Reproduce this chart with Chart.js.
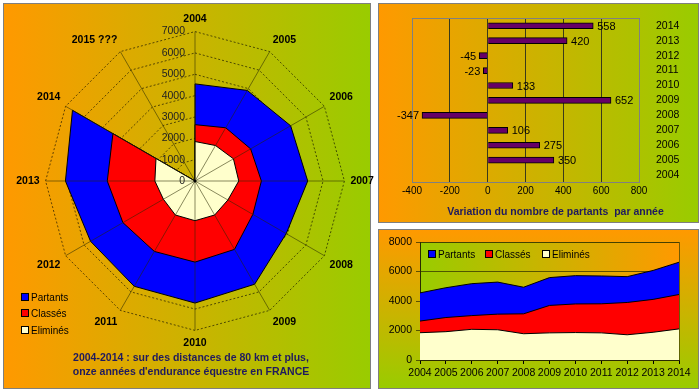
<!DOCTYPE html>
<html>
<head>
<meta charset="utf-8">
<script src="https://cdn.jsdelivr.net/npm/chart.js@4.4.1/dist/chart.umd.min.js"></script>
<style>
  body { margin: 0; width: 700px; height: 392px; background: #fff; position: relative; overflow: hidden;
         font-family: "Liberation Sans", Arial, sans-serif; }
  .panel { position: absolute; box-sizing: border-box; border: 1px solid #7f7f7f; }
  #p-radar { left: 3px; top: 3px; width: 368px; height: 386px; background: linear-gradient(to right, #ff9900, #99cc00); }
  #p-bar { left: 378px; top: 3px; width: 321px; height: 220px; background: linear-gradient(to right, #ff9900, #99cc00); }
  #p-area { left: 378px; top: 229px; width: 321px; height: 160px; background: linear-gradient(to bottom, #ff9900, #99cc00); }
  canvas { position: absolute; }
  .leg { position: absolute; font-size: 10px; color: #000; white-space: nowrap; line-height: 12px; }
  .leg i { display: inline-block; width: 6px; height: 6px; border: 1px solid #000; margin-right: 2px; vertical-align: 0px; }
  .title { position: absolute; left: 3px; width: 376px; text-align: center; font-weight: bold; font-size: 10.5px;
           color: #1f1a5e; line-height: 14px; }
</style>
</head>
<body>
<div class="panel" id="p-radar"></div>
<div class="panel" id="p-bar"></div>
<div class="panel" id="p-area"></div>

<canvas id="radar" width="376" height="392" style="left:0;top:0"></canvas>
<canvas id="bars" width="321" height="219" style="left:378px;top:3px"></canvas>
<canvas id="area" width="321" height="159" style="left:378px;top:229px"></canvas>

<div class="leg" style="left:21px;top:292px"><i style="background:#0000ff"></i>Partants</div>
<div class="leg" style="left:21px;top:308px"><i style="background:#ff0000"></i>Classés</div>
<div class="leg" style="left:21px;top:325px"><i style="background:#ffffcc"></i>Eliminés</div>

<div class="title" style="top:350px">2004-2014 : sur des distances de 80 km et plus,<br>onze années d'endurance équestre en FRANCE</div>

<div class="leg" style="left:428px;top:249px"><i style="background:#0000ff"></i>Partants</div>
<div class="leg" style="left:485px;top:249px"><i style="background:#ff0000"></i>Classés</div>
<div class="leg" style="left:542px;top:249px"><i style="background:#ffffcc"></i>Eliminés</div>

<script>
// --- Data ---
const years = ['2004', '2005', '2006', '2007', '2008', '2009', '2010', '2011', '2012', '2013', '2014'];
const radarExtraLabel = '2015 ???';
const radarExtraValue = 0;
const partants = [4550, 4900, 5175, 5281, 4934, 5586, 5719, 5696, 5651, 6071, 6629];
const classes = [2640, 2880, 3010, 3110, 3130, 3700, 3800, 3810, 3900, 4110, 4440];
const elimines = [1850, 1920, 2080, 2050, 1780, 1840, 1860, 1840, 1710, 1880, 2110];
const variation = [null, 350, 275, 106, -347, 652, 133, -23, -45, 420, 558];
const radarTicks = [0, 1000, 2000, 3000, 4000, 5000, 6000, 7000];
const barTicks = [-400, -200, 0, 200, 400, 600, 800];
const areaTicks = [0, 2000, 4000, 6000, 8000];

const FONT = '"Liberation Sans", Arial, sans-serif';
const BLUE = '#0000ff', RED = '#ff0000', CREAM = '#ffffcc', PURPLE = '#660066';

Chart.defaults.font.family = FONT;
Chart.defaults.color = '#000';
Chart.defaults.animation = false;

// --- Radar ---
// spokes and tick labels are drawn over the filled areas, like the original
const radarOverlay = {
    id: 'radarOverlay',
    afterDatasetsDraw(chart) {
        const s = chart.scales.r;
        const ctx = chart.ctx;
        ctx.save();
        ctx.strokeStyle = 'rgba(40,40,0,0.55)';
        ctx.lineWidth = 1;
        const n = chart.data.labels.length;
        for (let i = 0; i < n; i++) {
            const p = s.getPointPosition(i, s.drawingArea);
            ctx.beginPath();
            ctx.moveTo(s.xCenter, s.yCenter);
            ctx.lineTo(p.x, p.y);
            ctx.stroke();
        }
        ctx.fillStyle = '#000';
        ctx.beginPath();
        ctx.arc(s.xCenter, s.yCenter, 1.5, 0, Math.PI * 2);
        ctx.fill();
        ctx.font = '10.5px ' + FONT;
        ctx.textAlign = 'right';
        ctx.textBaseline = 'middle';
        ctx.fillStyle = '#222';
        radarTicks.forEach(v => {
            ctx.fillText(String(v), s.xCenter - 10, s.yCenter - s.getDistanceFromCenterForValue(v));
        });
        ctx.restore();
    }
};

new Chart(document.getElementById('radar'), {
    type: 'radar',
    data: {
        labels: [...years, radarExtraLabel],
        datasets: [
            { label: 'Partants', data: [...partants, radarExtraValue], backgroundColor: BLUE, order: 3 },
            { label: 'Classés', data: [...classes, radarExtraValue], backgroundColor: RED, order: 2 },
            { label: 'Eliminés', data: [...elimines, radarExtraValue], backgroundColor: CREAM, order: 1 }
        ].map(d => Object.assign(d, { fill: 'origin', borderColor: '#000', borderWidth: 1, pointRadius: 0, tension: 0 }))
    },
    options: {
        responsive: false,
        layout: { padding: { left: 16, right: 2, top: 14, bottom: 42 } },
        plugins: { legend: { display: false }, tooltip: { enabled: false } },
        scales: {
            r: {
                min: 0, max: 7000,
                ticks: { stepSize: 1000, display: false },
                grid: { color: 'rgba(0,0,0,0.6)', lineWidth: 1 },
                border: { dash: [2, 2] },
                angleLines: { display: false },
                pointLabels: { font: { size: 10.5, weight: 'bold' }, color: '#000', padding: 6 }
            }
        }
    },
    plugins: [radarOverlay]
});

// --- Variation bars ---
const plotFrame = {
    id: 'plotFrame',
    beforeDatasetsDraw(chart, args, opts) {
        const a = chart.chartArea;
        const ctx = chart.ctx;
        ctx.save();
        ctx.strokeStyle = opts.color;
        ctx.lineWidth = 1;
        ctx.strokeRect(Math.round(a.left) + 0.5, Math.round(a.top) + 0.5, Math.round(a.width), Math.round(a.height));
        ctx.restore();
    }
};

const barValues = {
    id: 'barValues',
    afterDatasetsDraw(chart) {
        const ctx = chart.ctx;
        const meta = chart.getDatasetMeta(0);
        ctx.save();
        ctx.font = '11px ' + FONT;
        ctx.fillStyle = '#000';
        ctx.textBaseline = 'middle';
        meta.data.forEach((bar, i) => {
            const v = variation[i];
            if (v === null) return;
            if (v >= 0) { ctx.textAlign = 'left'; ctx.fillText(String(v), bar.x + 4, bar.y + 1); }
            else { ctx.textAlign = 'right'; ctx.fillText(String(v), bar.x - 3, bar.y + 1); }
        });
        ctx.restore();
    }
};

new Chart(document.getElementById('bars'), {
    type: 'bar',
    data: {
        labels: years,
        datasets: [{
            data: variation,
            backgroundColor: PURPLE,
            borderColor: '#000',
            borderWidth: 1,
            barThickness: 6
        }]
    },
    options: {
        responsive: false,
        indexAxis: 'y',
        layout: { padding: { left: 34, right: 0, top: 15, bottom: 0 } },
        plugins: {
            legend: { display: false },
            tooltip: { enabled: false },
            title: {
                display: true, position: 'bottom',
                text: 'Variation du nombre de partants  par année',
                font: { size: 10.5, weight: 'bold' }, color: '#1f1a5e',
                padding: { top: 2, bottom: 4 }
            },
            plotFrame: { color: '#808080' }
        },
        scales: {
            x: {
                min: barTicks[0], max: barTicks[barTicks.length - 1],
                afterBuildTicks: (axis) => { axis.ticks = barTicks.map(v => ({ value: v })); },
                ticks: { font: { size: 10 }, padding: 3, color: '#000', callback: (v) => String(v) },
                grid: {
                    drawTicks: false,
                    color: (c) => (c.tick && (c.tick.value === barTicks[0] || c.tick.value === barTicks[barTicks.length - 1])) ? 'rgba(0,0,0,0)' : '#3a3a1a'
                },
                border: { color: '#808080' },
                afterFit: (axis) => { axis.height = 20.8; }
            },
            y: {
                position: 'right',
                reverse: true,
                grid: { display: false },
                border: { color: '#808080' },
                ticks: { font: { size: 10.5 }, padding: 9, color: '#000', autoSkip: false },
                afterFit: (axis) => { axis.width = 60; }
            }
        }
    },
    plugins: [plotFrame, barValues]
});

// --- Area chart ---
const areaBg = {
    id: 'areaBg',
    beforeDraw(chart) {
        const a = chart.chartArea;
        const ctx = chart.ctx;
        const g = ctx.createLinearGradient(a.left, 0, a.right, 0);
        g.addColorStop(0, '#99cc00');
        g.addColorStop(1, '#ff9900');
        ctx.save();
        ctx.fillStyle = g;
        ctx.fillRect(a.left, a.top, a.width, a.height);
        ctx.restore();
    }
};

new Chart(document.getElementById('area'), {
    type: 'line',
    data: {
        labels: years,
        datasets: [
            { label: 'Partants', data: partants, backgroundColor: BLUE, order: 3 },
            { label: 'Classés', data: classes, backgroundColor: RED, order: 2 },
            { label: 'Eliminés', data: elimines, backgroundColor: CREAM, order: 1 }
        ].map(d => Object.assign(d, { fill: 'origin', borderColor: '#000', borderWidth: 1, pointRadius: 0, tension: 0 }))
    },
    options: {
        responsive: false,
        layout: { padding: { left: 0, right: 20, top: 13, bottom: 0 } },
        plugins: {
            legend: { display: false },
            tooltip: { enabled: false },
            plotFrame: { color: 'rgba(60,60,0,0.7)' }
        },
        scales: {
            x: {
                offset: false,
                grid: { drawOnChartArea: false, tickLength: 4, color: '#000' },
                border: { color: '#000' },
                ticks: { font: { size: 10.5 }, padding: 3, color: '#000', maxRotation: 0, autoSkip: false },
                afterFit: (axis) => { axis.height = 28; }
            },
            y: {
                min: areaTicks[0], max: areaTicks[areaTicks.length - 1],
                afterBuildTicks: (axis) => { axis.ticks = areaTicks.map(v => ({ value: v })); },
                grid: { tickLength: 4, color: 'rgba(50,50,0,0.75)' },
                border: { color: '#000' },
                ticks: { font: { size: 10.5 }, padding: 4, color: '#000', callback: (v) => String(v) },
                afterFit: (axis) => { axis.width = 42; }
            }
        }
    },
    plugins: [areaBg, plotFrame]
});
</script>
</body>
</html>
